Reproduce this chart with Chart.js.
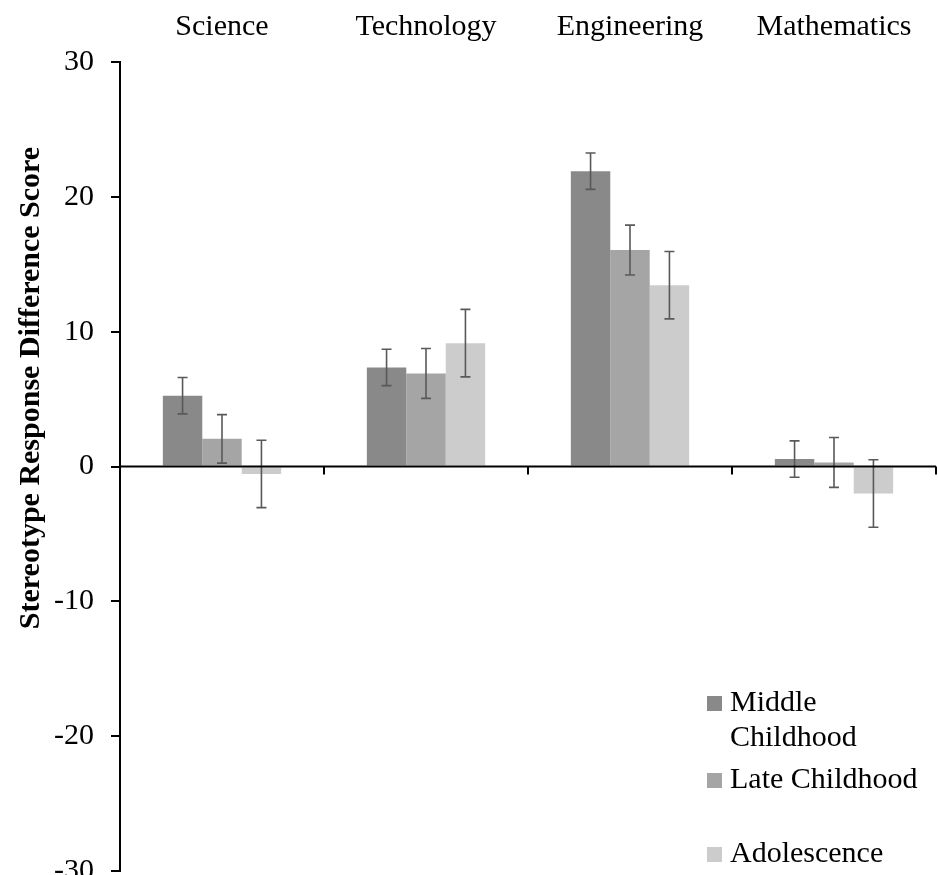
<!DOCTYPE html>
<html>
<head>
<meta charset="utf-8">
<script src="https://cdn.jsdelivr.net/npm/chart.js@4/dist/chart.umd.min.js"></script>
<style>
  html, body { margin: 0; padding: 0; background: #fff; overflow: hidden; }
</style>
</head>
<body>
<canvas id="grafica" width="938" height="906"></canvas>
<script>
// datos
const categorias = ['Science', 'Technology', 'Engineering', 'Mathematics']
const etapas = ['Middle Childhood', 'Late Childhood', 'Adolescence']
const middleChildhood = [5.25, 7.35, 21.9, 0.55]
const lateChildhood = [2.05, 6.9, 16.05, 0.3]
const adolescence = [-0.55, 9.15, 13.45, -2.0]
const errMiddle = [1.35, 1.35, 1.35, 1.35]
const errLate = [1.8, 1.85, 1.85, 1.85]
const errAdolescence = [2.5, 2.5, 2.5, 2.5]
const yTicks = [-30, -20, -10, 0, 10, 20, 30]
const tituloY = 'Stereotype Response Difference Score'

const fuente = '"Liberation Serif", "Times New Roman", serif'
const colores = ['#898989', '#a5a5a5', '#cccccc']

// barras de error
const errorBars = {
  id: 'errorBars',
  afterDatasetsDraw(chart) {
    const { ctx, scales: { y } } = chart
    ctx.save()
    ctx.strokeStyle = '#595959'
    ctx.lineWidth = 1.6
    chart.data.datasets.forEach((ds, i) => {
      const meta = chart.getDatasetMeta(i)
      meta.data.forEach((bar, j) => {
        const v = ds.data[j]
        const e = ds.errores[j]
        const top = y.getPixelForValue(v + e)
        const bottom = y.getPixelForValue(v - e)
        const x = bar.x
        ctx.beginPath()
        ctx.moveTo(x, top); ctx.lineTo(x, bottom)
        ctx.moveTo(x - 5, top); ctx.lineTo(x + 5, top)
        ctx.moveTo(x - 5, bottom); ctx.lineTo(x + 5, bottom)
        ctx.stroke()
      })
    })
    ctx.restore()
  }
}

// línea del cero con marcas entre categorías, título del eje y leyenda
const extras = {
  id: 'extras',
  afterDraw(chart) {
    const { ctx, chartArea, scales: { x, y } } = chart
    const y0 = y.getPixelForValue(0)
    const paso = x.getPixelForValue(1) - x.getPixelForValue(0)
    ctx.save()
    ctx.strokeStyle = '#000'
    ctx.lineWidth = 2
    ctx.beginPath()
    ctx.moveTo(chartArea.left, y0); ctx.lineTo(chartArea.right, y0)
    for (let i = 1; i <= categorias.length; i++) {
      const xb = x.getPixelForValue(i - 1) + paso / 2
      ctx.moveTo(xb, y0); ctx.lineTo(xb, y0 + 8)
    }
    ctx.stroke()

    // título del eje y
    ctx.fillStyle = '#000'
    ctx.font = 'bold 30px ' + fuente
    ctx.textAlign = 'center'
    ctx.textBaseline = 'middle'
    ctx.translate(31, 388)
    ctx.rotate(-Math.PI / 2)
    ctx.fillText(tituloY, 0, 0)
    ctx.restore()

    // leyenda
    const lineas = [['Middle', 'Childhood'], ['Late Childhood'], ['Adolescence']]
    const bases = [711, 788, 862]
    ctx.save()
    ctx.font = '30px ' + fuente
    ctx.textAlign = 'left'
    ctx.textBaseline = 'alphabetic'
    chart.data.datasets.forEach((ds, i) => {
      ctx.fillStyle = ds.backgroundColor
      ctx.fillRect(707, bases[i] - 15, 15, 15)
      ctx.fillStyle = '#000'
      lineas[i].forEach((t, k) => ctx.fillText(t, 730, bases[i] + k * 35))
    })
    ctx.restore()
  }
}

new Chart(document.getElementById('grafica'), {
  type: 'bar',
  data: {
    labels: categorias,
    datasets: [
      { label: etapas[0], data: middleChildhood, errores: errMiddle, backgroundColor: colores[0] },
      { label: etapas[1], data: lateChildhood, errores: errLate, backgroundColor: colores[1] },
      { label: etapas[2], data: adolescence, errores: errAdolescence, backgroundColor: colores[2] }
    ]
  },
  options: {
    responsive: false,
    animation: false,
    categoryPercentage: 0.58,
    barPercentage: 1.0,
    layout: { padding: { left: 0, right: 2, top: 0, bottom: 28 } },
    plugins: {
      legend: { display: false },
      tooltip: { enabled: false }
    },
    scales: {
      x: {
        position: 'top',
        grid: { display: false },
        border: { display: false },
        ticks: { color: '#000', font: { family: fuente, size: 30 }, padding: 9 },
        afterFit: s => { s.height = 62 }
      },
      y: {
        min: -30,
        max: 30,
        afterBuildTicks: s => { s.ticks = yTicks.map(v => ({ value: v })) },
        grid: { drawOnChartArea: false, color: '#000', tickLength: 9, lineWidth: 2 },
        border: { display: true, color: '#000', width: 2 },
        ticks: { color: '#000', font: { family: fuente, size: 30 }, padding: 17 },
        afterFit: s => { s.width = 120 }
      }
    }
  },
  plugins: [errorBars, extras]
})
</script>
</body>
</html>
